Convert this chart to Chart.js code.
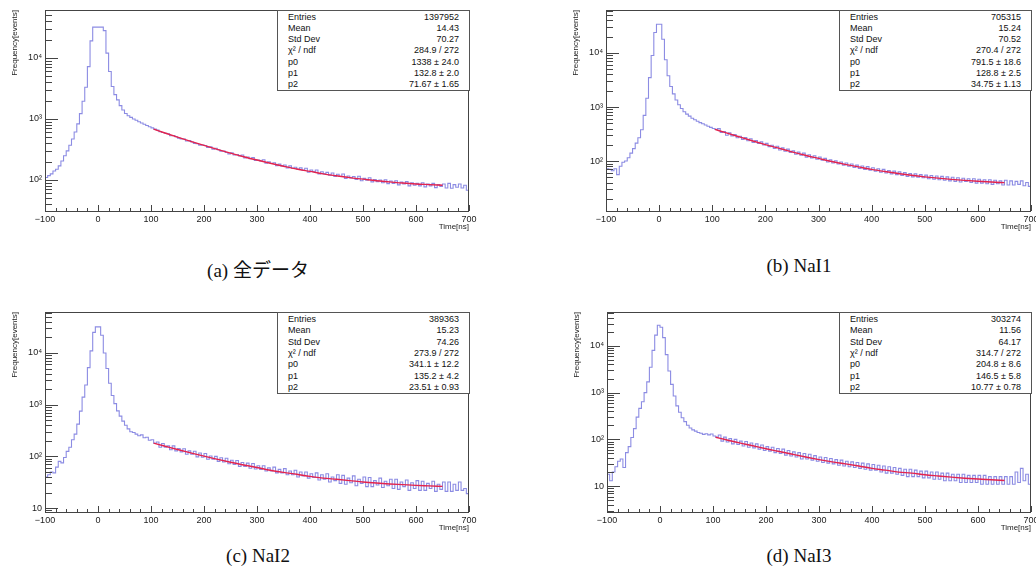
<!DOCTYPE html>
<html>
<head>
<meta charset="utf-8">
<script src="https://cdn.jsdelivr.net/npm/chart.js@4.4.1/dist/chart.umd.min.js"></script>
<style>
    html, body { margin: 0; padding: 0; background: #fff; overflow: hidden; }
    #page { position: relative; width: 1036px; height: 587px; overflow: hidden; background: #fff; }
    .panel { position: absolute; }
    .stats {
        position: absolute; box-sizing: border-box; border: 1px solid #555; background: #fff;
        font: 9px "Liberation Sans", Arial, sans-serif; color: #111;
        display: grid; grid-template-rows: repeat(7, 1fr); padding: 0 10px;
    }
    .stats div { display: flex; justify-content: space-between; align-items: center; white-space: nowrap; }
    .caption {
        position: absolute; width: 300px; text-align: center; line-height: 20px;
        font: 19px "Liberation Serif", "Noto Sans CJK JP", serif; color: #111;
    }
</style>
</head>
<body>
<div id="page"></div>
<script>
// Histogramas de tiempo (escala log) con ajuste exponencial, 4 paneles
(function() {
    'use strict';

    // Binning del histograma
    var binStart = -100;
    var binWidth = 5;

    // Cuentas por bin (160 bins, -100..700 ns)
    var countsA = [
        110,118,126,140,150,170,205,250,300,370,
        470,610,830,1220,1950,3300,7200,19000,32000,32000,
        32000,32000,28000,12000,6000,3400,2500,2050,1650,1400,
        1230,1130,1060,1000,950,900,860,820,780,745,
        715,680,
        660,615,598,582,572,530,536,512,485,470,
        470,436,442,418,398,392,372,375,368,340,
        348,318,330,312,296,298,282,268,280,256,
        262,248,256,230,238,224,232,208,212,204,
        214,188,198,186,192,172,182,170,176,158,
        170,156,162,150,158,144,156,134,146,136,
        146,126,136,126,133,120,130,114,124,114,
        125,106,116,108,114,102,115,97,106,99,
        109,93,102,94,100,90,101,87,96,88,
        97,83,92,86,94,80,90,82,88,80,
        90,77,86,80,88,75,84,78,86,74,
        88,73,84,76,86,74,82,68
    ];
    var countsB = [
        72,70,66,72,56,80,95,100,115,140,
        170,215,270,380,700,1450,3500,9000,24000,34000,
        34000,18000,7500,3800,2400,1750,1350,1100,940,820,
        740,680,620,580,545,515,490,465,440,420,
        400,385,
        398,340,352,300,335,292,310,270,288,252,
        272,238,258,220,240,212,226,198,212,185,
        196,172,188,160,175,152,166,145,154,134,
        146,128,140,118,131,114,125,108,118,104,
        112,96,106,92,101,88,96,84,92,80,
        88,76,84,73,81,70,79,68,75,65,
        72,62,70,60,67,58,65,56,63,54,
        61,52,59,51,58,50,56,49,55,47,
        54,46,53,45,52,44,51,43,50,42,
        49,41,48,42,47,40,47,39,46,39,
        45,38,45,37,44,38,43,36,44,36,
        43,36,42,37,43,35,40,34
    ];
    var countsC = [
        40,44,50,48,62,80,75,95,125,150,
        210,270,420,750,1400,2400,5200,11000,25000,32000,
        32000,22000,10000,5000,2600,1500,1050,760,600,480,
        400,340,300,290,270,250,260,230,235,205,
        210,180,
        190,150,178,150,160,134,160,128,142,122,
        140,110,128,110,126,98,116,96,114,88,
        102,88,100,80,94,78,92,72,84,70,
        83,64,76,64,74,59,73,57,66,56,
        66,52,60,52,62,48,56,48,58,44,
        52,44,54,40,50,42,50,38,46,39,
        48,35,44,36,46,32,40,34,44,30,
        43,29,38,31,42,27,36,30,40,26,
        39,26,34,28,38,25,33,27,36,24,
        36,23,32,26,35,22,31,24,34,22,
        33,22,30,24,33,21,29,23,32,21,
        32,21,29,22,32,22,24,19
    ];
    var countsD = [
        18,13,20,26,34,38,25,52,70,110,
        170,300,460,640,1000,1700,3500,8000,17000,27500,
        25000,15000,6500,2900,1500,850,520,380,290,240,
        200,175,160,150,140,135,128,132,125,130,
        118,112,
        124,92,112,88,104,80,100,78,92,72,
        90,68,84,66,80,62,76,58,70,56,
        68,52,64,50,62,46,58,44,54,42,
        52,38,50,38,48,36,45,34,42,32,
        41,31,39,30,37,28,36,27,34,26,
        33,25,32,24,31,23,30,22,29,22,
        28,20,27,19,26,19,25,18,24,17,
        23,16,23,16,22,16,21,15,21,15,
        20,14,20,14,19,13,19,13,18,13,
        18,12,18,12,17,12,17,12,17,11,
        17,11,16,11,16,11,16,11,16,11,
        16,11,20,12,24,13,18,11
    ];

    // Curva de ajuste
    var fitX = [105,125,150,175,200,225,250,275,300,325,350,375,400,425,450,475,500,525,550,575,600,625,650];
    var fitA = [679,594,504,430,369,318,275,240,212,188,168,151,138,126,117,109,103,97,93,89,86,84,82];
    var fitB = [385,335,282,238,202,173,148,128,112,98,87,78,70,64,59,54.5,51,48.2,45.8,43.9,42.3,40.9,39.8];
    var fitC = [180,159,136,117,101,88,77,68,61,54,49,45,41,38,36,34,32,30.5,29.3,28.4,27.5,26.9,26.3];
    var fitD = [111,98,84,73,63,55,48,42,37,33,30,27,24,22,20,19,17.5,16.5,15.6,14.8,14.2,13.7,13.2];

    // Cajas de estadística
    var statLabels = ['Entries', 'Mean', 'Std Dev', 'χ² / ndf', 'p0', 'p1', 'p2'];
    var statsA = ['1397952', '14.43', '70.27', '284.9 / 272', '1338 ± 24.0', '132.8 ± 2.0', '71.67 ± 1.65'];
    var statsB = ['705315', '15.24', '70.52', '270.4 / 272', '791.5 ± 18.6', '128.8 ± 2.5', '34.75 ± 1.13'];
    var statsC = ['389363', '15.23', '74.26', '273.9 / 272', '341.1 ± 12.2', '135.2 ± 4.2', '23.51 ± 0.93'];
    var statsD = ['303274', '11.56', '64.17', '314.7 / 272', '204.8 ± 8.6', '146.5 ± 5.8', '10.77 ± 0.78'];

    var captions = ['(a) 全データ', '(b) NaI1', '(c) NaI2', '(d) NaI3'];
    var xTitle = 'Time[ns]';
    var yTitle = 'Frequency[events]';
    var xTicks = { min: -100, max: 700, step: 100, minor: 20 };

    // Rangos de eje Y por panel
    var yRanges = [[31, 61000], [11.9, 62500], [8.4, 62000], [2.8, 53000]];

    // Layout (pixeles en la página)
    var layout = [
        { left: 0,   top: 0,   w: 518, h: 240, l: 45,  r: 469,  t: 10,  b: 211, capX: 258, capY: 265 },
        { left: 518, top: 0,   w: 560, h: 240, l: 606, r: 1031, t: 10,  b: 211, capX: 799, capY: 265 },
        { left: 0,   top: 300, w: 518, h: 240, l: 45,  r: 469,  t: 312, b: 512, capX: 258, capY: 555 },
        { left: 518, top: 300, w: 560, h: 240, l: 607, r: 1031, t: 312, b: 512, capX: 799, capY: 555 }
    ];

    var allCounts = [countsA, countsB, countsC, countsD];
    var allFits = [fitA, fitB, fitC, fitD];
    var allStats = [statsA, statsB, statsC, statsD];

    var Y_AXIS_W = 30, X_AXIS_H = 20;
    var supers = { 2: '²', 3: '³', 4: '⁴', 5: '⁵' };

    Chart.defaults.font.family = '"Liberation Sans", Arial, sans-serif';
    Chart.defaults.color = '#222';

    function histPoints(counts) {
        var pts = counts.map(function(c, i) { return { x: binStart + i * binWidth, y: c }; });
        pts.push({ x: binStart + counts.length * binWidth, y: counts[counts.length - 1] });
        return pts;
    }

    // Plugin: marco, ticks hacia dentro y títulos estilo ROOT
    var rootFrame = {
        id: 'rootFrame',
        afterDraw: function(chart) {
            var ctx = chart.ctx, a = chart.chartArea;
            var xs = chart.scales.x, ys = chart.scales.y;
            ctx.save();
            ctx.strokeStyle = '#444';
            ctx.lineWidth = 1;
            ctx.strokeRect(Math.round(a.left) + 0.5, Math.round(a.top) + 0.5,
                Math.round(a.right - a.left) - 1, Math.round(a.bottom - a.top));

            ctx.beginPath();
            for (var v = xTicks.min; v <= xTicks.max; v += xTicks.minor) {
                var px = Math.round(xs.getPixelForValue(v)) + 0.5;
                var len = (v % xTicks.step === 0) ? 6 : 3;
                ctx.moveTo(px, a.bottom);
                ctx.lineTo(px, a.bottom - len);
            }
            var d0 = Math.floor(Math.log10(ys.min)), d1 = Math.ceil(Math.log10(ys.max));
            for (var d = d0; d <= d1; d++) {
                for (var m = 1; m <= 9; m++) {
                    var val = m * Math.pow(10, d);
                    if (val < ys.min || val > ys.max) continue;
                    var py = Math.round(ys.getPixelForValue(val)) + 0.5;
                    ctx.moveTo(a.left, py);
                    ctx.lineTo(a.left + (m === 1 ? 13 : 7), py);
                }
            }
            ctx.stroke();

            ctx.fillStyle = '#222';
            ctx.font = '8px "Liberation Sans", Arial, sans-serif';
            ctx.textAlign = 'right';
            ctx.textBaseline = 'middle';
            ctx.fillText(xTitle, a.right, a.bottom + 16);
            ctx.translate(a.left - 30, a.top);
            ctx.rotate(-Math.PI / 2);
            ctx.fillText(yTitle, 0, 0);
            ctx.restore();
        }
    };

    var page = document.getElementById('page');

    layout.forEach(function(L, i) {
        var counts = allCounts[i];
        if (counts.length !== 160) throw new Error('panel ' + i + ' has ' + counts.length + ' bins');

        var box = document.createElement('div');
        box.className = 'panel';
        box.style.left = L.left + 'px';
        box.style.top = L.top + 'px';
        var cv = document.createElement('canvas');
        cv.width = L.w; cv.height = L.h;
        cv.style.width = L.w + 'px'; cv.style.height = L.h + 'px';
        box.appendChild(cv);
        page.appendChild(box);

        var lx = L.l - L.left, rx = L.r - L.left, ty = L.t - L.top, by = L.b - L.top;

        new Chart(cv, {
            type: 'line',
            data: {
                datasets: [
                    {
                        data: histPoints(counts),
                        stepped: true,
                        borderColor: '#8c8ce3',
                        borderWidth: 1.1,
                        pointRadius: 0,
                        fill: false,
                        order: 1
                    },
                    {
                        data: fitX.map(function(x, k) { return { x: x, y: allFits[i][k] }; }),
                        borderColor: '#e3234d',
                        borderWidth: 1.4,
                        pointRadius: 0,
                        cubicInterpolationMode: 'monotone',
                        fill: false,
                        order: 0
                    }
                ]
            },
            plugins: [rootFrame],
            options: {
                responsive: false,
                animation: false,
                events: [],
                layout: { padding: { left: lx - Y_AXIS_W, right: L.w - rx, top: ty, bottom: L.h - by - X_AXIS_H } },
                plugins: { legend: { display: false }, tooltip: { enabled: false } },
                scales: {
                    x: {
                        type: 'linear',
                        min: xTicks.min, max: xTicks.max,
                        grid: { display: false, drawTicks: false },
                        border: { display: false },
                        afterFit: function(s) { s.height = X_AXIS_H; },
                        ticks: {
                            stepSize: xTicks.step, padding: 3, maxRotation: 0, autoSkip: false,
                            font: { size: 9 }, color: '#222',
                            callback: function(v) { return v < 0 ? '−' + Math.abs(v) : String(v); }
                        }
                    },
                    y: {
                        type: 'logarithmic',
                        min: yRanges[i][0], max: yRanges[i][1],
                        grid: { display: false, drawTicks: false },
                        border: { display: false },
                        afterFit: function(s) { s.width = Y_AXIS_W; },
                        afterBuildTicks: function(s) {
                            var t = [];
                            [10, 100, 1000, 10000].forEach(function(v) {
                                if (v >= s.min && v <= s.max) t.push({ value: v });
                            });
                            s.ticks = t;
                        },
                        ticks: {
                            padding: 3, font: { size: 9 }, color: '#222',
                            callback: function(v) {
                                var e = Math.round(Math.log10(v));
                                return e === 1 ? '10' : '10' + supers[e];
                            }
                        }
                    }
                }
            }
        });

        // Caja de estadística
        var st = document.createElement('div');
        st.className = 'stats';
        st.style.left = (L.r - 192) + 'px';
        st.style.top = L.t + 'px';
        st.style.width = '193px';
        st.style.height = (i < 2 ? 81 : 82) + 'px';
        statLabels.forEach(function(lab, k) {
            var row = document.createElement('div');
            var s1 = document.createElement('span'); s1.textContent = lab;
            var s2 = document.createElement('span'); s2.textContent = allStats[i][k];
            row.appendChild(s1); row.appendChild(s2);
            st.appendChild(row);
        });
        page.appendChild(st);

        var cap = document.createElement('div');
        cap.className = 'caption';
        cap.textContent = captions[i];
        cap.style.left = (L.capX - 150) + 'px';
        cap.style.top = (L.capY - 10) + 'px';
        page.appendChild(cap);
    });
})();
</script>
</body>
</html>
